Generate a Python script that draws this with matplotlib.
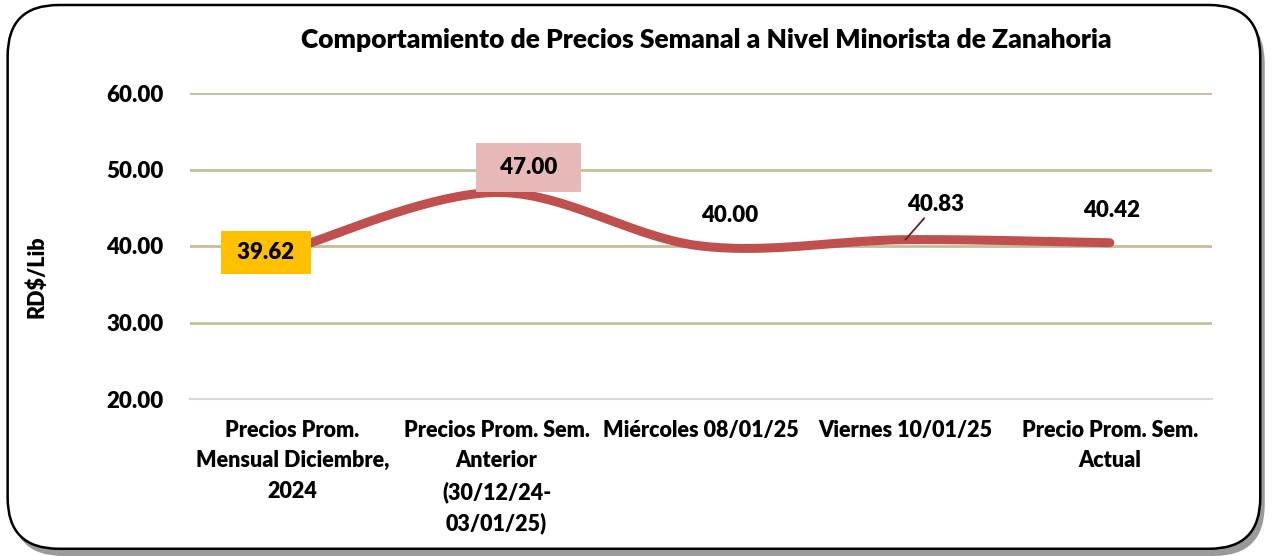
import matplotlib.pyplot as plt
from matplotlib.patches import FancyBboxPatch
import numpy as np

categories = ['Precios Prom.\nMensual Diciembre,\n2024',
              'Precios Prom. Sem.\nAnterior\n(30/12/24-\n03/01/25)',
              'Miércoles 08/01/25',
              'Viernes 10/01/25',
              'Precio Prom. Sem.\nActual']
prices = [39.62, 47.00, 40.00, 40.83, 40.42]
yticks = [20, 30, 40, 50, 60]
title = 'Comportamiento de Precios Semanal a Nivel Minorista de Zanahoria'

plt.rcParams['font.family'] = ['Lato', 'DejaVu Sans']
W = 'heavy'


def smooth(xs, ys, n=40):
    # bezier smoothing similar to the spreadsheet "smoothed line"
    px, py = [], []
    m = len(xs)
    for i in range(m - 1):
        x0, y0 = xs[max(i - 1, 0)], ys[max(i - 1, 0)]
        x1, y1 = xs[i], ys[i]
        x2, y2 = xs[i + 1], ys[i + 1]
        x3, y3 = xs[min(i + 2, m - 1)], ys[min(i + 2, m - 1)]
        c1 = (x1 + (x2 - x0) / 6, y1 + (y2 - y0) / 6)
        c2 = (x2 - (x3 - x1) / 6, y2 - (y3 - y1) / 6)
        t = np.linspace(0, 1, n)
        bx = (1 - t) ** 3 * x1 + 3 * (1 - t) ** 2 * t * c1[0] + 3 * (1 - t) * t ** 2 * c2[0] + t ** 3 * x2
        by = (1 - t) ** 3 * y1 + 3 * (1 - t) ** 2 * t * c1[1] + 3 * (1 - t) * t ** 2 * c2[1] + t ** 3 * y2
        px.extend(bx)
        py.extend(by)
    return px, py


fig = plt.figure(figsize=(12.73, 5.56), dpi=100)

# rounded frame with shadow
shadow = FancyBboxPatch((0.0095, 0.0), 0.984, 0.978, boxstyle='round,pad=0,rounding_size=0.04',
                        transform=fig.transFigure, facecolor='#9a9a9a', edgecolor='none',
                        mutation_aspect=1273 / 556, zorder=0)
frame = FancyBboxPatch((0.006, 0.013), 0.984, 0.978, boxstyle='round,pad=0,rounding_size=0.04',
                       transform=fig.transFigure, facecolor='white', edgecolor='black',
                       linewidth=1.8, mutation_aspect=1273 / 556, zorder=1)
fig.patches.extend([shadow, frame])

ax = fig.add_axes([190 / 1273, 157 / 556, 1022 / 1273, 306 / 556])
ax.set_zorder(2)
ax.patch.set_alpha(0)

x = np.arange(len(prices))
sx, sy = smooth(list(x), prices)
ax.plot(sx, sy, color='#C0504D', linewidth=6.5, solid_capstyle='round', zorder=3)

ax.set_xlim(-0.5, len(prices) - 0.5)
ax.set_ylim(20, 60)
ax.set_yticks(yticks)
ax.set_yticklabels([f'{v:.2f}' for v in yticks], fontsize=16, fontweight=W)
for v in yticks[1:]:
    ax.axhline(v, color='#C4BD97', linewidth=2, zorder=1)
for s in ['top', 'right', 'left']:
    ax.spines[s].set_visible(False)
ax.spines['bottom'].set_color('#D9D9D9')
ax.spines['bottom'].set_linewidth(1.5)
ax.tick_params(axis='both', length=0)
ax.tick_params(axis='y', pad=19)
ax.set_xticks(x)
ax.set_xticklabels(categories, fontsize=15.5, fontweight=W, linespacing=1.55, va='top')
ax.tick_params(axis='x', pad=15)
ax.set_ylabel('RD$/Lib', fontsize=15.5, fontweight=W)
ax.yaxis.set_label_coords(-0.139, 0.40)

# data labels
lab = dict(fontsize=16, fontweight=W, ha='center', va='center', zorder=5)
ax.annotate(f' {prices[0]:.2f} ', (x[0], prices[0]), xytext=(-19, -2.5), textcoords='offset points',
            bbox=dict(boxstyle='square,pad=0.5', fc='#FFC000', ec='none'), **lab)
ax.annotate(f'  {prices[1]:.2f}  ', (x[1], prices[1]), xytext=(23, 18), textcoords='offset points',
            bbox=dict(boxstyle='square,pad=0.62', fc='#E6B9B8', ec='none'), **lab)
ax.annotate(f'{prices[2]:.2f}', (x[2], prices[2]), xytext=(21, 22), textcoords='offset points', **lab)
ax.annotate(f'{prices[3]:.2f}', (x[3], prices[3]), xytext=(22, 25), textcoords='offset points',
            arrowprops=dict(arrowstyle='-', color='#6b1f1f', lw=1.3, shrinkA=0, shrinkB=0), **lab)
ax.annotate(f'{prices[4]:.2f}', (x[4], prices[4]), xytext=(1.5, 23), textcoords='offset points', **lab)

fig.text(706 / 1273, 1 - 40 / 556, title, ha='center', va='center', fontsize=19, fontweight=W)

fig.savefig('out.png', dpi=100)
